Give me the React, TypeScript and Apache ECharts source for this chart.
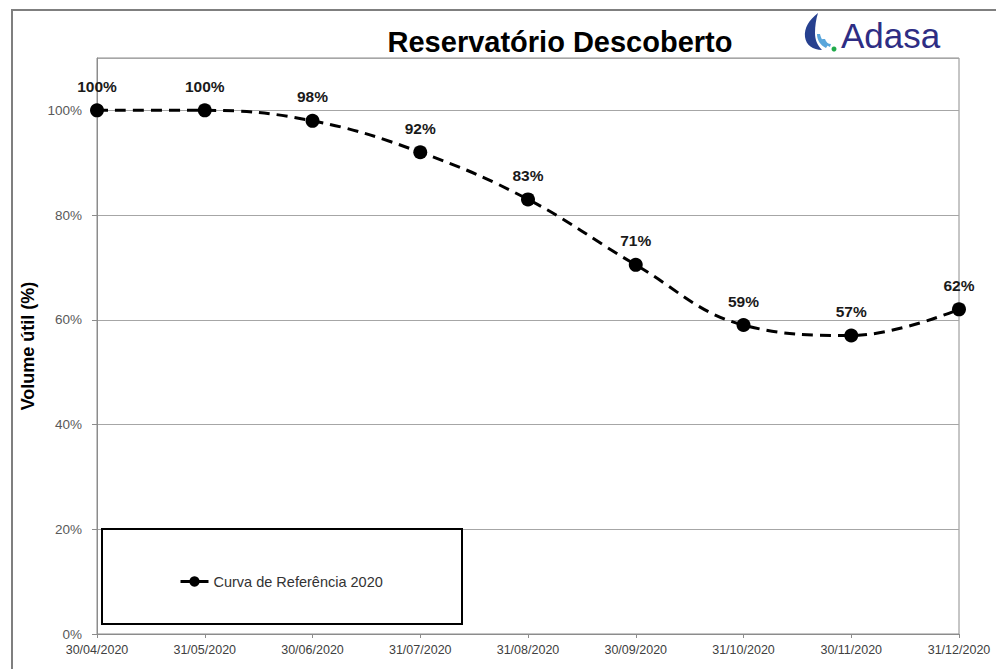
import React, { useEffect, useRef } from "react";
import * as echarts from "echarts";

const categories = ["30/04/2020", "31/05/2020", "30/06/2020", "31/07/2020", "31/08/2020", "30/09/2020", "31/10/2020", "30/11/2020", "31/12/2020"];
const volumes = [100, 100, 98, 92, 83, 70.5, 59, 57, 62];
const volumeLabels = ["100%", "100%", "98%", "92%", "83%", "71%", "59%", "57%", "62%"];
const seriesName = "Curva de Referência 2020";

echarts.graphic.registerShape(
  "dropDark",
  echarts.graphic.extendPath(
    "M18 3 C9 10 4 18 5 27 C6 35 13 40 22 40 C17 35 15 29 15 23 C15 16 16 9 18 3 Z",
    {}
  )
);
echarts.graphic.registerShape(
  "dropLight",
  echarts.graphic.extendPath(
    "M17 24 C17 30 20 35 26 38 L28 35 C24 33 21 29 20 24 Z M22 29 C23 33 26 35 30 37 L31 34 C28 34 26 32 25 29 Z",
    {}
  )
);

export default function App() {
  const ref = useRef<HTMLDivElement>(null);
  useEffect(() => {
    document.body.style.margin = "0";
    const chart = echarts.init(ref.current!, undefined, { renderer: "svg" });
    chart.setOption({
      animation: false,
      backgroundColor: "#ffffff",
      grid: { left: 97, right: 37, top: 58, bottom: 35, show: true, borderColor: "#8c8c8c", borderWidth: 1 },
      title: {
        text: "Reservatório Descoberto",
        left: 555,
        textAlign: "center",
        top: 22,
        textStyle: { fontFamily: "Liberation Sans", fontWeight: "bold", fontSize: 29, color: "#000" },
      },
      legend: {
        left: 174,
        top: 569,
        itemWidth: 28,
        itemHeight: 13,
        itemGap: 4,
        z: 20,
        data: [seriesName],
        lineStyle: { type: "solid", width: 3 },
        textStyle: { fontFamily: "Liberation Sans", fontSize: 14.5, color: "#333" },
      },
      xAxis: {
        type: "category",
        data: categories,
        boundaryGap: false,
        axisLine: { lineStyle: { color: "#8c8c8c" } },
        axisTick: { show: true, alignWithLabel: true, lineStyle: { color: "#8c8c8c" }, length: 4 },
        axisLabel: { fontFamily: "Liberation Sans", fontSize: 12.5, color: "#404040", margin: 9 },
        splitLine: { show: false },
      },
      yAxis: {
        type: "value",
        min: 0,
        max: 110,
        interval: 20,
        name: "Volume útil (%)",
        nameLocation: "middle",
        nameGap: 56,
        nameTextStyle: { fontFamily: "Liberation Sans", fontWeight: "bold", fontSize: 18, color: "#000" },
        axisLine: { show: true, lineStyle: { color: "#8c8c8c" } },
        axisTick: { show: true, lineStyle: { color: "#8c8c8c" }, length: 5 },
        axisLabel: { fontFamily: "Liberation Sans", fontSize: 13.5, color: "#595959", formatter: "{value}%", showMaxLabel: false, margin: 15 },
        splitLine: { show: true, lineStyle: { color: "#a6a6a6", width: 1 } },
      },
      series: [
        {
          name: seriesName,
          type: "line",
          data: volumes,
          smooth: 0.4,
          symbol: "circle",
          symbolSize: 14,
          itemStyle: { color: "#000" },
          lineStyle: { color: "#000", width: 3, type: [11, 7] },
          label: {
            show: true,
            position: "top",
            distance: 9,
            formatter: (p: any) => volumeLabels[p.dataIndex],
            fontFamily: "Liberation Sans",
            fontWeight: "bold",
            fontSize: 15.5,
            color: "#1a1a1a",
          },
          z: 5,
        },
      ],
      graphic: [
        { type: "line", shape: { x1: 12, y1: 10, x2: 12, y2: 669 }, style: { stroke: "#7f7f7f", lineWidth: 2 }, z: 1 },
        { type: "line", shape: { x1: 11, y1: 10, x2: 996, y2: 10 }, style: { stroke: "#7f7f7f", lineWidth: 2 }, z: 1 },
        {
          type: "rect",
          shape: { x: 102, y: 529, width: 360, height: 95 },
          style: { fill: "#fff", stroke: "#000", lineWidth: 2 },
          z: 10,
        },
        { type: "dropDark", x: 800, y: 10, style: { fill: "#26408f" }, z: 10 },
        { type: "dropLight", x: 800, y: 10, style: { fill: "#5aa6dc" }, z: 10 },
        { type: "circle", shape: { cx: 834, cy: 49, r: 2.5 }, style: { fill: "#1faa4a" }, z: 10 },
        {
          type: "text",
          x: 841,
          y: 18,
          style: { text: "Adasa", fontFamily: "Liberation Sans", fontSize: 35, fill: "#2e2d84" },
          z: 10,
        },
      ],
    });
    return () => chart.dispose();
  }, []);
  return <div ref={ref} style={{ width: 996, height: 669 }} />;
}
